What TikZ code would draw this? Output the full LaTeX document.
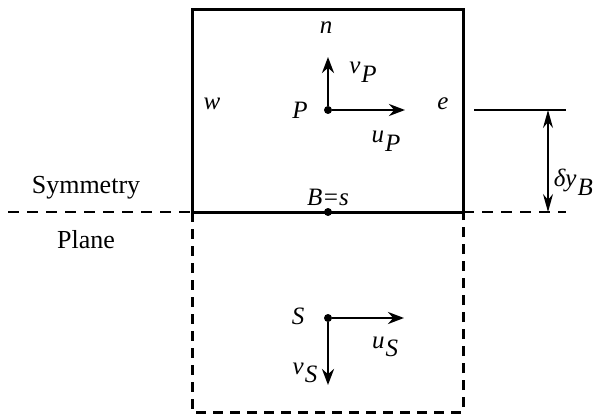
\documentclass[tikz,border=0pt]{standalone}
\usepackage{fontspec}
\setmainfont{Liberation Serif}
\usetikzlibrary{arrows.meta,positioning}
\newcommand{\vsub}[2]{\textit{#1}\kern1pt\raisebox{-0.75ex}{\textit{#2}}}
\tikzset{
  lbl/.style={font=\fontsize{25}{29}\selectfont\itshape, inner sep=0pt},
  rlbl/.style={font=\fontsize{26}{30}\selectfont, inner sep=0pt},
  dot/.style={circle, fill=black, inner sep=0pt, minimum size=8pt},
  cell/.style={line width=3pt},
  ghost/.style={line width=3pt, dash pattern=on 10pt off 7pt},
  symln/.style={line width=1.5pt, dash pattern=on 11pt off 8pt},
  vec/.style={-{Stealth[length=16pt,width=12pt]}, line width=2.6pt},
  dim/.style={{Stealth[length=18pt,width=10pt]}-{Stealth[length=18pt,width=10pt]}, line width=1.3pt}
}

\begin{document}
\begin{tikzpicture}[x=1pt, y=-1pt]
  \useasboundingbox (0,0) rectangle (594,417);
  % control volume and its mirror image
  \coordinate (nw) at (192,10);
  \coordinate (se) at (463,212);
  \coordinate (sw) at (192,212);
  \coordinate (gse) at (463,412);
  \draw[ghost] (sw) -- (192,412) -- (gse) -- (se);
  \draw[cell] (nw) rectangle (se);
  % symmetry plane
  \coordinate (symL) at (8,212);
  \coordinate (symR) at (566,212);
  \draw[symln] (symL) -- (sw);
  \draw[symln] (se) -- (symR);
  \node[rlbl] (sym) at (86,188) {Symmetry};
  \node[rlbl] (plane) at (86,240) {Plane};
  % node P
  \node[dot] (P) at (328,110) {};
  \coordinate (vPtip) at (328,57);
  \coordinate (uPtip) at (405,110);
  \draw[vec] (P) -- (vPtip);
  \draw[vec] (P) -- (uPtip);
  \node[lbl] (Plbl) at (300,110) {P};
  \node[lbl] (n) at (326,28) {n};
  \node[lbl] (vP) at (363,72) {\vsub{v}{P}};
  \node[lbl] (uP) at (386,141) {\vsub{u}{P}};
  \node[lbl] (w) at (212,104) {w};
  \node[lbl] (e) at (443,104) {e};
  % boundary node
  \node[dot] (B) at (328,212) {};
  \node[lbl] (Blbl) at (328,197) {B=s};
  % mirror node S
  \node[dot] (S) at (328,318) {};
  \coordinate (uStip) at (404,318);
  \coordinate (vStip) at (328,385);
  \draw[vec] (S) -- (uStip);
  \draw[vec] (S) -- (vStip);
  \node[lbl] (Slbl) at (298,316) {S};
  \node[lbl] (uS) at (385,347) {\vsub{u}{S}};
  \node[lbl] (vS) at (305,373) {\vsub{v}{S}};
  % distance to the boundary
  \coordinate (tickL) at (474,110);
  \coordinate (tickR) at (566,110);
  \draw[line width=1.3pt] (tickL) -- (tickR);
  \coordinate (dyTop) at (548,110);
  \coordinate (dyBot) at (548,212);
  \draw[dim] (dyTop) -- (dyBot);
  \node[lbl, anchor=east] (dy) at (593,182) {δ\vsub{y}{B}};
\end{tikzpicture}
\end{document}
